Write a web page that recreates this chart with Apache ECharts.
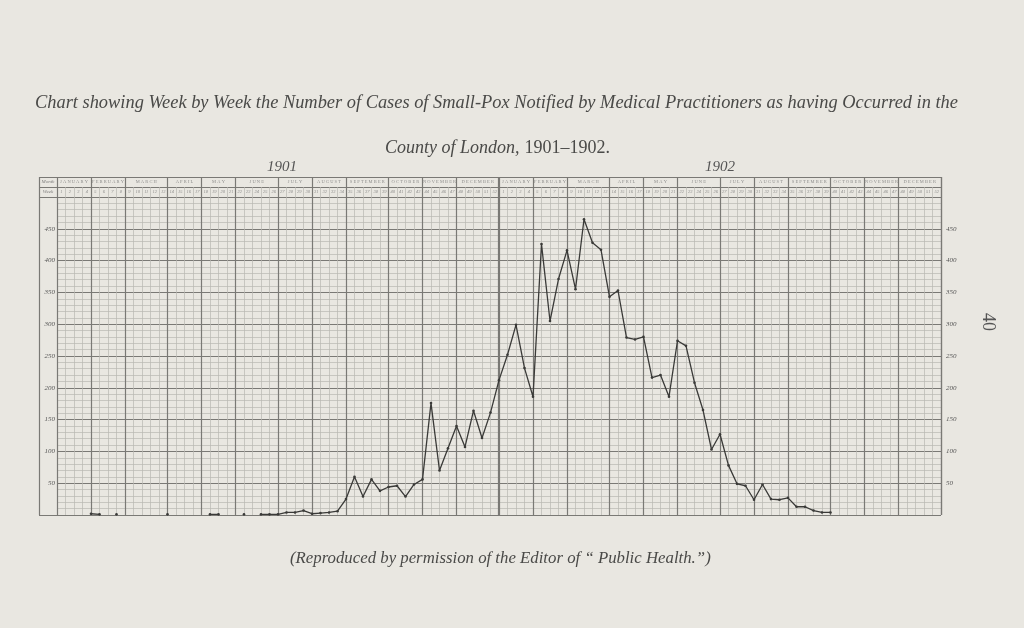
<!DOCTYPE html>
<html><head><meta charset="utf-8">
<script src="https://cdn.jsdelivr.net/npm/echarts@6/dist/echarts.min.js"></script>
<style>html,body{margin:0;padding:0;background:#e9e7e1}#c{width:1024px;height:628px}</style>
</head><body><div id="c"></div>
<script>
// ---- data ----
const months = ['JANUARY','FEBRUARY','MARCH','APRIL','MAY','JUNE','JULY','AUGUST','SEPTEMBER','OCTOBER','NOVEMBER','DECEMBER'];
const weeksPerMonth = [4,4,5,4,4,5,4,4,5,4,4,5];
const years = ['1901','1902'];
const yTickLabels = [50,100,150,200,250,300,350,400,450];
// weekly small-pox cases, week 1..52 (null = none plotted)
const cases1901 = [null,null,null,2,1,null,1,null,null,null,null,null,1,null,null,null,null,1,1,null,null,1,null,1,1,1,4,4,7,2,3,4,6,25,60,29,56,38,44,46,29,48,56,176,70,105,140,107,164,121,161,212];
const cases1902 = [252,299,231,186,426,305,371,416,355,465,428,417,343,353,279,276,280,216,220,186,274,266,208,165,103,127,78,49,46,24,48,25,24,27,13,13,7,4,4,null,null,null,null,null,null,null,null,null,null,null,null,null];

// ---- derived ----
const WEEKS = 52;
const bounds = [0];
weeksPerMonth.forEach(w => bounds.push(bounds[bounds.length-1] + w));
const allBounds = [];
years.forEach((y, yi) => bounds.forEach(b => allBounds.push(b + yi*WEEKS)));
const uniqBounds = [...new Set(allBounds)];

const pts = [];
cases1901.forEach((v,i) => pts.push([i+1, v==null ? '-' : v]));
cases1902.forEach((v,i) => pts.push([WEEKS+i+1, v==null ? '-' : v]));

const monthCells = [];
years.forEach((y, yi) => months.forEach((m, mi) => {
  monthCells.push({value:[(bounds[mi]+bounds[mi+1])/2 + yi*WEEKS, 0.5], name: m.split('').join(' ')});
}));
const weekCells = [];
years.forEach((y, yi) => { for (let w=1; w<=WEEKS; w++) weekCells.push({value:[w-0.5+yi*WEEKS, 0.5], name:String(w)}); });

const minorC = '#b9b7b1', majorC = '#7a7975', inkC = '#3a3a38';
const fontSerif = '"Liberation Serif","DejaVu Serif",serif';

const hiddenAx = {axisLine:{show:false}, axisTick:{show:false}, axisLabel:{show:false}};
const markBounds = (width) => ({
  silent:true, symbol:'none', label:{show:false}, animation:false,
  data: uniqBounds.map(b => ({xAxis:b, lineStyle:{color:majorC, width:(b===WEEKS? 2.2 : width), type:'solid'}}))
});

const chart = echarts.init(document.getElementById('c'), null, {renderer:'canvas'});
chart.setOption({
  backgroundColor:'#e9e7e1',
  animation:false,
  title:[
    {text:'Chart showing Week by Week the Number of Cases of Small-Pox Notified by Medical Practitioners as having Occurred in the',
     left:30, top:89, textStyle:{fontFamily:fontSerif, fontStyle:'italic', fontWeight:'normal', fontSize:18.4, color:'#4a4a48'}},
    {text:'{i|County of London,} {n|1901–1902.}', left:380, top:134,
     textStyle:{fontWeight:'normal', rich:{i:{fontFamily:fontSerif, fontStyle:'italic', fontWeight:'normal', fontSize:18, color:'#4a4a48'}, n:{fontFamily:fontSerif, fontWeight:'normal', fontSize:18, color:'#4a4a48'}}}},
    {text:years[0], left:262, top:155, textStyle:{fontFamily:fontSerif, fontStyle:'italic', fontWeight:'normal', fontSize:15, color:'#555'}},
    {text:years[1], left:700, top:155, textStyle:{fontFamily:fontSerif, fontStyle:'italic', fontWeight:'normal', fontSize:15, color:'#555'}},
    {text:'(Reproduced by permission of the Editor of “ Public Health.”)', left:285, top:545,
     textStyle:{fontFamily:fontSerif, fontStyle:'italic', fontWeight:'normal', fontSize:16.8, color:'#4a4a48'}}
  ],
  graphic:[
    {type:'text', x:997, y:313, rotation:-Math.PI/2, style:{text:'40', font:'18px "Liberation Serif", serif', fill:'#555'}}
  ],
  grid:[
    {left:57, right:83, top:197, bottom:113},
    {left:57, right:83, top:187, height:10},
    {left:57, right:83, top:177, height:10},
    {left:39, width:18, top:177, height:20},
    {left:39, right:83, top:177, bottom:113}
  ],
  xAxis:[
    Object.assign({type:'value', gridIndex:0, min:0, max:104, interval:1, splitLine:{show:true, lineStyle:{color:minorC, width:0.7}}}, hiddenAx),
    Object.assign({type:'value', gridIndex:1, min:0, max:104, interval:1, splitLine:{show:true, lineStyle:{color:minorC, width:0.7}}}, hiddenAx),
    Object.assign({type:'value', gridIndex:2, min:0, max:104, interval:1, splitLine:{show:false}}, hiddenAx),
    Object.assign({type:'value', gridIndex:3, min:0, max:1, interval:1, splitLine:{show:true, lineStyle:{color:majorC, width:1}}}, hiddenAx),
    Object.assign({type:'value', gridIndex:4, min:0, max:1, interval:1, splitLine:{show:true, lineStyle:{color:majorC, width:1.2}}}, hiddenAx)
  ],
  yAxis:[
    Object.assign({type:'value', gridIndex:0, min:0, max:500, interval:10, splitLine:{show:true, lineStyle:{color:minorC, width:0.7}}}, hiddenAx),
    {type:'value', gridIndex:0, position:'left', min:0, max:500, interval:50,
     axisLine:{show:false}, axisTick:{show:false},
     splitLine:{show:true, lineStyle:{color:majorC, width:1.1}},
     axisLabel:{show:true, margin:2, fontSize:7, fontStyle:'italic', fontFamily:fontSerif, color:'#555',
       formatter: v => yTickLabels.includes(v) ? String(v) : ''}},
    {type:'value', gridIndex:0, position:'right', min:0, max:500, interval:50,
     axisLine:{show:false}, axisTick:{show:false}, splitLine:{show:false},
     axisLabel:{show:true, margin:5, fontSize:7, fontStyle:'italic', fontFamily:fontSerif, color:'#555',
       formatter: v => yTickLabels.includes(v) ? String(v) : ''}},
    Object.assign({type:'value', gridIndex:1, min:0, max:1, interval:1, splitLine:{show:true, lineStyle:{color:majorC, width:1}}}, hiddenAx),
    Object.assign({type:'value', gridIndex:2, min:0, max:1, interval:1, splitLine:{show:true, lineStyle:{color:majorC, width:1}}}, hiddenAx),
    Object.assign({type:'value', gridIndex:3, min:0, max:2, interval:1, splitLine:{show:true, lineStyle:{color:majorC, width:1}}}, hiddenAx),
    Object.assign({type:'value', gridIndex:4, min:0, max:1, interval:1, splitLine:{show:true, lineStyle:{color:majorC, width:1.2}}}, hiddenAx)
  ],
  series:[
    {type:'line', name:'Cases', xAxisIndex:0, yAxisIndex:0, data:pts, connectNulls:false,
     symbol:'circle', symbolSize:2.6, showSymbol:true, z:10,
     lineStyle:{color:inkC, width:1.3}, itemStyle:{color:inkC},
     markLine: markBounds(1.2)},
    {type:'scatter', xAxisIndex:1, yAxisIndex:3, data:weekCells, symbolSize:1, itemStyle:{color:'rgba(0,0,0,0)'}, silent:true,
     label:{show:true, position:'inside', formatter:p => p.name, fontSize:4.5, fontStyle:'italic', color:'#777', fontFamily:fontSerif},
     markLine: markBounds(1.2)},
    {type:'scatter', xAxisIndex:2, yAxisIndex:4, data:monthCells, symbolSize:1, itemStyle:{color:'rgba(0,0,0,0)'}, silent:true,
     label:{show:true, position:'inside', formatter:p => p.name, fontSize:4.5, color:'#777', fontFamily:fontSerif},
     markLine: markBounds(1.2)},
    {type:'scatter', xAxisIndex:3, yAxisIndex:5, data:[{value:[0.5,1.5], name:'Month'},{value:[0.5,0.5], name:'Week'}], symbolSize:1, itemStyle:{color:'rgba(0,0,0,0)'}, silent:true,
     label:{show:true, position:'inside', formatter:p => p.name, fontSize:5, fontStyle:'italic', color:'#666', fontFamily:fontSerif}}
  ]
});
</script></body></html>
